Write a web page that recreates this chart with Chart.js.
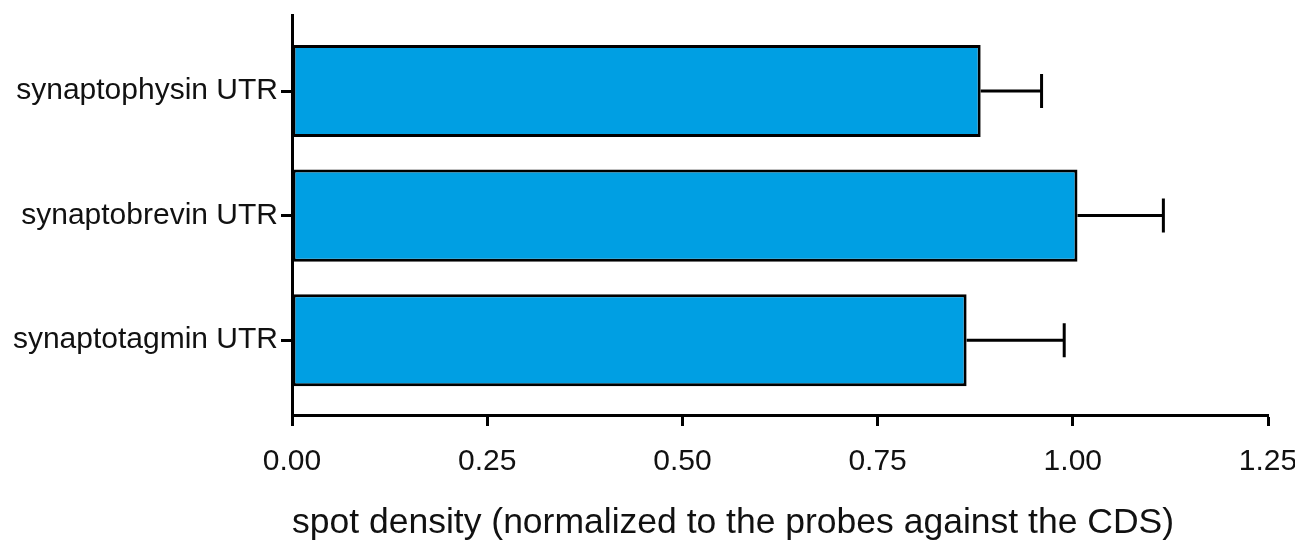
<!DOCTYPE html>
<html>
<head>
<meta charset="utf-8">
<script src="https://cdn.jsdelivr.net/npm/chart.js@4"></script>
<style>
  html, body { margin: 0; padding: 0; background: #fff; }
  #wrap { width: 1295px; height: 551px; }
</style>
</head>
<body>
<div id="wrap"><canvas id="spot-chart" width="1295" height="551"></canvas></div>
<script>
 /*-------------------
 Data
 -------------------*/
 const probes = ['synaptophysin UTR', 'synaptobrevin UTR', 'synaptotagmin UTR'];
 const density = [0.882, 1.006, 0.864];
 const densityErr = [0.078, 0.110, 0.125];
 const xTicks = [0, 0.25, 0.5, 0.75, 1.0, 1.25];

 const fontFamily = 'Helvetica, Arial, "Liberation Sans", sans-serif';

 // Error bars (plus side only), drawn from the scales
 const errorBars = {
   id: 'errorBars',
   afterDatasetsDraw(chart) {
     const ctx = chart.ctx;
     const xs = chart.scales.x;
     const ys = chart.scales.y;
     ctx.save();
     ctx.strokeStyle = '#000';
     ctx.lineWidth = 3;
     density.forEach((v, i) => {
       const y = ys.getPixelForValue(i);
       const x0 = xs.getPixelForValue(v);
       const x1 = xs.getPixelForValue(v + densityErr[i]);
       ctx.beginPath();
       ctx.moveTo(x0, y);
       ctx.lineTo(x1, y);
       ctx.moveTo(x1, y - 17);
       ctx.lineTo(x1, y + 17);
       ctx.stroke();
     });
     ctx.restore();
   }
 };

 const spotCanvas = document.getElementById('spot-chart');

 const spotData = {
   datasets: [{
     data: probes.map((p, i) => ({ x: density[i], y: i })),
     backgroundColor: '#009fe3',
     borderColor: '#000',
     borderWidth: 3,
     borderSkipped: false,
     categoryPercentage: 1,
     barPercentage: 0.74
   }]
 };

 const spotOptions = {
   indexAxis: 'y',
   responsive: false,
   animation: { duration: 0 },
   layout: { padding: { top: 14, right: 0, left: 0, bottom: 0 } },
   scales: {
     x: {
       type: 'linear',
       min: 0,
       max: 1.25,
       afterBuildTicks: (scale) => { scale.ticks = xTicks.map(v => ({ value: v })); },
       afterFit: (scale) => { scale.height = 136; scale.paddingRight = 27; },
       grid: { drawOnChartArea: false, tickLength: 11, tickWidth: 3, tickColor: '#000' },
       border: { color: '#000', width: 3 },
       ticks: {
         padding: 18,
         color: '#111',
         font: { family: fontFamily, size: 30 },
         callback: (v) => Number(v).toFixed(2)
       },
       title: {
         display: true,
         align: 'start',
         text: 'spot density (normalized to the probes against the CDS)',
         color: '#111',
         font: { family: fontFamily, size: 35.5 },
         padding: { top: 0, bottom: 6 }
       }
     },
     y: {
       type: 'linear',
       reverse: true,
       offset: false,
       min: -0.61,
       max: 2.6,
       afterBuildTicks: (scale) => { scale.ticks = probes.map((p, i) => ({ value: i })); },
       afterFit: (scale) => { scale.width = 292; },
       grid: { offset: false, drawOnChartArea: false, tickLength: 11, tickWidth: 3, tickColor: '#000' },
       border: { color: '#000', width: 3 },
       ticks: {
         padding: 3,
         color: '#111',
         font: { family: fontFamily, size: 30, lineHeight: 0.8 },
         callback: (v) => probes[v]
       }
     }
   },
   plugins: {
     legend: { display: false },
     tooltip: { enabled: false }
   }
 };

 let spotChart = new Chart(spotCanvas, {
   type: 'bar',
   data: spotData,
   options: spotOptions,
   plugins: [errorBars]
 });
</script>
</body>
</html>
